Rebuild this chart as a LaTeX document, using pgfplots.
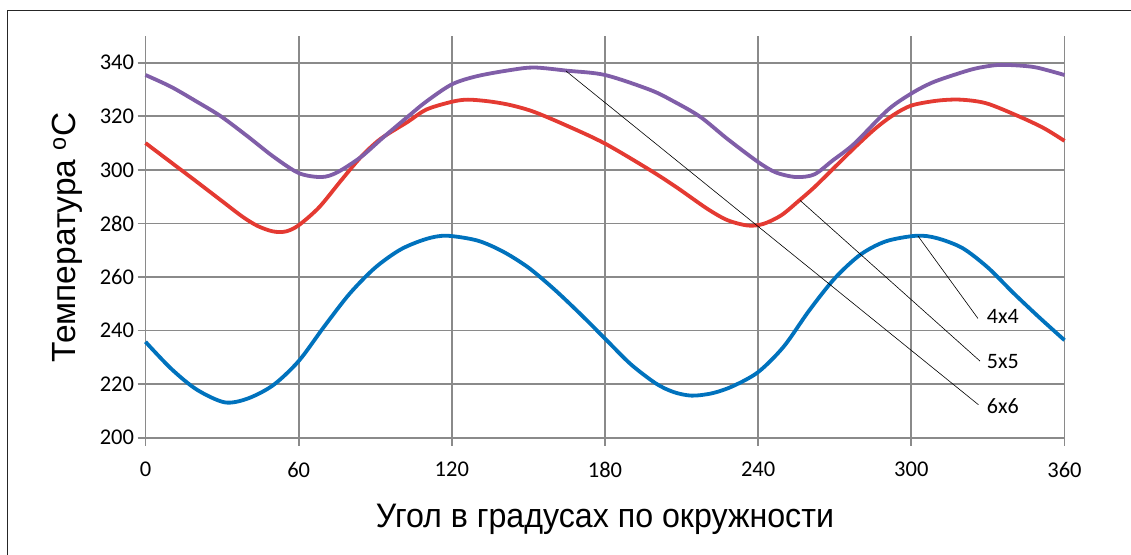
\documentclass[border=0pt]{standalone}
\usepackage{pgfplots}
\pgfplotsset{compat=1.18}
\usepackage{fontspec}
\setmainfont{Liberation Sans}
\newfontfamily\calibri{Carlito}
\definecolor{cblue}{RGB}{0,114,189}
\definecolor{cred}{RGB}{228,58,50}
\definecolor{cpurple}{RGB}{128,94,168}
\definecolor{gridgray}{RGB}{138,138,138}

\pgfplotstableread{
x y
0 235.8
10 225.8
20 218
31 213.2
40 214.6
50 219.6
60 228.6
70 241.5
80 253.8
90 263.5
100 270.3
110 274.2
118 275.4
130 273.6
140 269.5
150 263.5
160 255.5
170 246.5
180 237
190 227.5
200 220.2
207 217
214 215.7
222 216.6
230 219.2
240 224.5
250 234
260 247.5
270 259.5
280 268.3
290 273.3
302 275.4
310 274.5
320 270.8
330 263.5
340 254
350 245
360 236.4
}\blue

\pgfplotstableread{
x y
0 310
10 302.8
20 295.6
30 288.3
38 282.5
44 279
50 277
55 277
60 279.3
68 286
76.6 296
84.4 304.8
92 311.5
102.7 317.9
110 322.5
120 325.4
126.3 326.2
135 325.5
143.3 324.1
152.3 321.6
165 316.5
180 309.8
197.8 299.8
208 293.5
220 285.5
228 281.2
236 279.2
242 279.8
249 283
256 288.5
262 293.5
270 301
278 308.5
286 315.5
293 320.5
300 324
310 325.8
319.2 326.2
329.5 324.8
342.5 319.8
352 315.5
360 310.8
}\red

\pgfplotstableread{
x y
0 335.4
10 331
20 325.5
29.5 320
40 312.5
50 305
60 298.8
68.8 297.3
75 299
84.4 304.8
93 312
102.7 319.8
110 325.5
120 331.9
130 335
143.3 337.3
152.3 338.2
165.3 337
180 335.4
197.8 329.8
207 325.5
217.3 319.8
228 311.5
240 302.9
247 299
254.9 297.3
262 298.3
269.2 303.5
277.7 309.8
290.7 322.3
300 328.5
308 332.5
316.6 335.4
325 337.8
333.4 339.1
341 339
349 338.2
360 335.4
}\purple

\begin{document}
\begin{tikzpicture}[x=1pt,y=1pt]
\useasboundingbox (0,0) rectangle (1131,554);
\draw[line width=1.3pt, black!85] (7.5,-20) -- (7.5,543.5) -- (1160,543.5);
\begin{axis}[
  at={(145.5pt,116.3pt)}, anchor=south west,
  scale only axis, width=919pt, height=401.8pt,
  xmin=0, xmax=360, ymin=200, ymax=350,
  xtick={0,60,...,360}, ytick={200,220,...,340},
  grid=major,
  major grid style={line width=1.8pt, color=gridgray},
  axis lines*=left, axis line style={draw=none},
  tick align=outside, major tick length=8pt,
  tick style={line width=1.8pt, color=gridgray},
  tick label style={font=\calibri\fontsize{22.5}{27}\selectfont, text=black},
  xticklabel style={yshift=-13pt},
  /pgf/number format/assume math mode=true,
  clip=false,
]
\addplot[cblue, line width=3.8pt, smooth] table {\blue};
\addplot[cred, line width=3.8pt, smooth] table {\red};
\addplot[cpurple, line width=3.8pt, smooth] table {\purple};
\addplot[black, line width=0.6pt] coordinates {(302.6,275.3) (326.1,244.5)};
\addplot[black, line width=0.6pt] coordinates {(256.4,288.6) (326.9,228.6)};
\addplot[black, line width=0.6pt] coordinates {(164.7,336.9) (326.3,212.3)};
\node[anchor=west, inner sep=0pt, font=\calibri\fontsize{22}{26}\selectfont] at (axis cs:329.5,245.2) {4x4};
\node[anchor=west, inner sep=0pt, font=\calibri\fontsize{22}{26}\selectfont] at (axis cs:329.5,228.4) {5x5};
\node[anchor=west, inner sep=0pt, font=\calibri\fontsize{22}{26}\selectfont] at (axis cs:329.5,211.6) {6x6};
\end{axis}
\node[anchor=base, inner sep=0pt, font=\fontsize{34}{40}\selectfont] at (605,27) {\scalebox{0.946}[1]{Угол в градусах по окружности}};
\node[anchor=base, inner sep=0pt, rotate=90, font=\fontsize{33.5}{40}\selectfont] at (75,316.5) {Температура \textsuperscript{o}C};
\end{tikzpicture}
\end{document}
